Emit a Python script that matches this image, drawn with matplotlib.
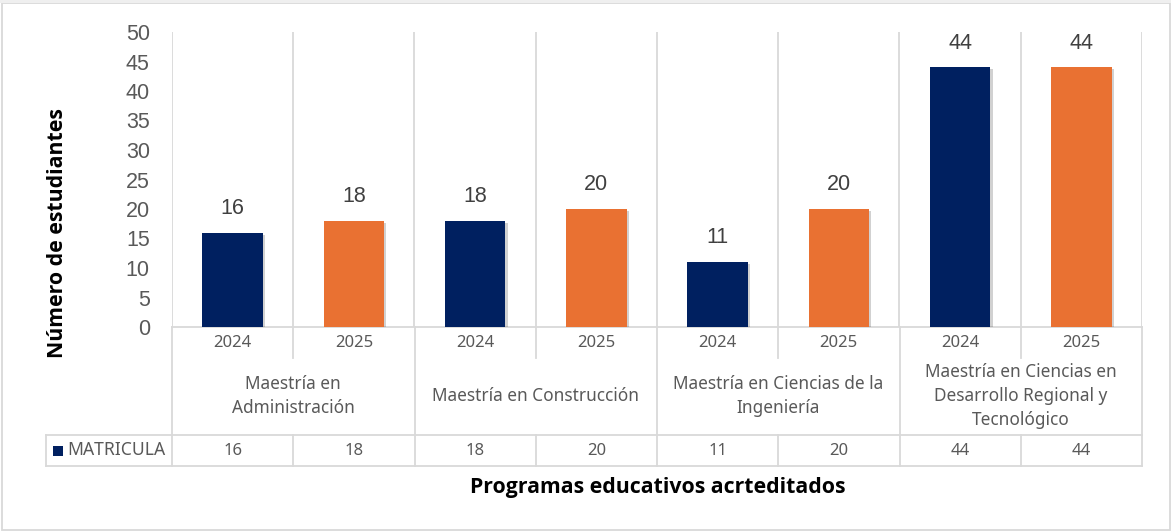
import matplotlib
matplotlib.use("Agg")
import matplotlib.pyplot as plt
import matplotlib.patheffects as pe
from matplotlib.patches import Rectangle

# ---- data ----
programs = ["Maestría en\nAdministración",
            "Maestría en Construcción",
            "Maestría en Ciencias de la\nIngeniería",
            "Maestría en Ciencias en\nDesarrollo Regional y\nTecnológico"]
years = ["2024", "2025"]
matricula = [16, 18, 18, 20, 11, 20, 44, 44]
series_name = "MATRICULA"
y_ticks = [0, 5, 10, 15, 20, 25, 30, 35, 40, 45, 50]
y_label = "Número de estudiantes"
x_label = "Programas educativos acrteditados"

navy = "#002060"
orange = "#E97132"
grid = "#D9D9D9"
txt = "#595959"

W, H = 1171, 532
fig = plt.figure(figsize=(W / 100, H / 100), dpi=100)

# plot area in pixels
L, R, T, B = 172, 1142, 32, 327
ax = fig.add_axes([L / W, 1 - B / H, (R - L) / W, (B - T) / H])
n = len(matricula)
ax.set_xlim(0, n)
ax.set_ylim(0, 50)
colors = [navy if i % 2 == 0 else orange for i in range(n)]
xs = [i + 0.5 for i in range(n)]
bars = ax.bar(xs, matricula, width=0.5, color=colors, zorder=3)
for b in bars:
    b.set_path_effects([pe.SimplePatchShadow(offset=(1.5, -1.5), alpha=0.18, shadow_rgbFace="k"), pe.Normal()])
for x, v in zip(xs, matricula):
    ax.annotate(str(v), (x, v), xytext=(0, 17.5), textcoords="offset points",
                ha="center", va="center", fontsize=15.5, color="#404040",
                family="Liberation Sans")
for k in range(n + 1):
    ax.axvline(k, color=grid, lw=1.3, zorder=1)
ax.set_yticks(y_ticks)
ax.set_yticklabels([str(t) for t in y_ticks], family="Liberation Sans", fontsize=15.5, color=txt)
ax.tick_params(axis="y", length=0, pad=16)
ax.set_xticks([])
for s in ax.spines.values():
    s.set_visible(False)
ax.set_facecolor("none")

# overlay in pixel coords
ov = fig.add_axes([0, 0, 1, 1], zorder=-1)
ov.set_xlim(0, W)
ov.set_ylim(H, 0)
ov.axis("off")

colw = (R - L) / n
def cx(k):
    return L + k * colw

lc = dict(color=grid, lw=1.3)
# outer frame
ov.add_patch(Rectangle((2, 3), W - 3, H - 5, fill=False, ec="#D9D9D9", lw=1.3))
ov.add_patch(Rectangle((0, 0), W, 3, color="#EFEFEF", lw=0))

# axis baseline
ov.plot([L, R], [B, B], **lc)
row_year_bot = 358
row_prog_bot = 435
row_mat_bot = 466
for k in range(n + 1):
    if k % 2 == 0:
        ov.plot([cx(k), cx(k)], [B, row_mat_bot], **lc)
    else:
        ov.plot([cx(k), cx(k)], [B, row_year_bot], **lc)
        ov.plot([cx(k), cx(k)], [row_prog_bot, row_mat_bot], **lc)
ov.plot([46, R], [row_prog_bot, row_prog_bot], **lc)
ov.plot([46, R], [row_mat_bot, row_mat_bot], **lc)
ov.plot([46, 46], [row_prog_bot, row_mat_bot], **lc)

tfont = dict(family="Noto Sans", fontsize=12, color=txt, ha="center", va="center")
for i in range(n):
    ov.text(cx(i) + colw / 2, 343, years[i % 2], **tfont)
    ov.text(cx(i) + colw / 2, 451, str(matricula[i]), **tfont)
pfont = dict(tfont, fontsize=12.4)
for j, p in enumerate(programs):
    ov.text(cx(2 * j) + colw, 396, p, linespacing=1.45, **pfont)

ov.add_patch(Rectangle((53, 446), 10, 10, color=navy, lw=0))
ov.text(67, 450, series_name, family="Noto Sans", fontsize=12.6, color=txt, ha="left", va="center")

ov.text(58, 233, y_label, rotation=90, family="Open Sans", fontweight="bold",
        fontsize=15.3, color="black", ha="center", va="center")
ov.text(658, 488, x_label, family="Open Sans", fontweight="bold",
        fontsize=15.3, color="black", ha="center", va="center")

fig.savefig("out.png", dpi=100)
